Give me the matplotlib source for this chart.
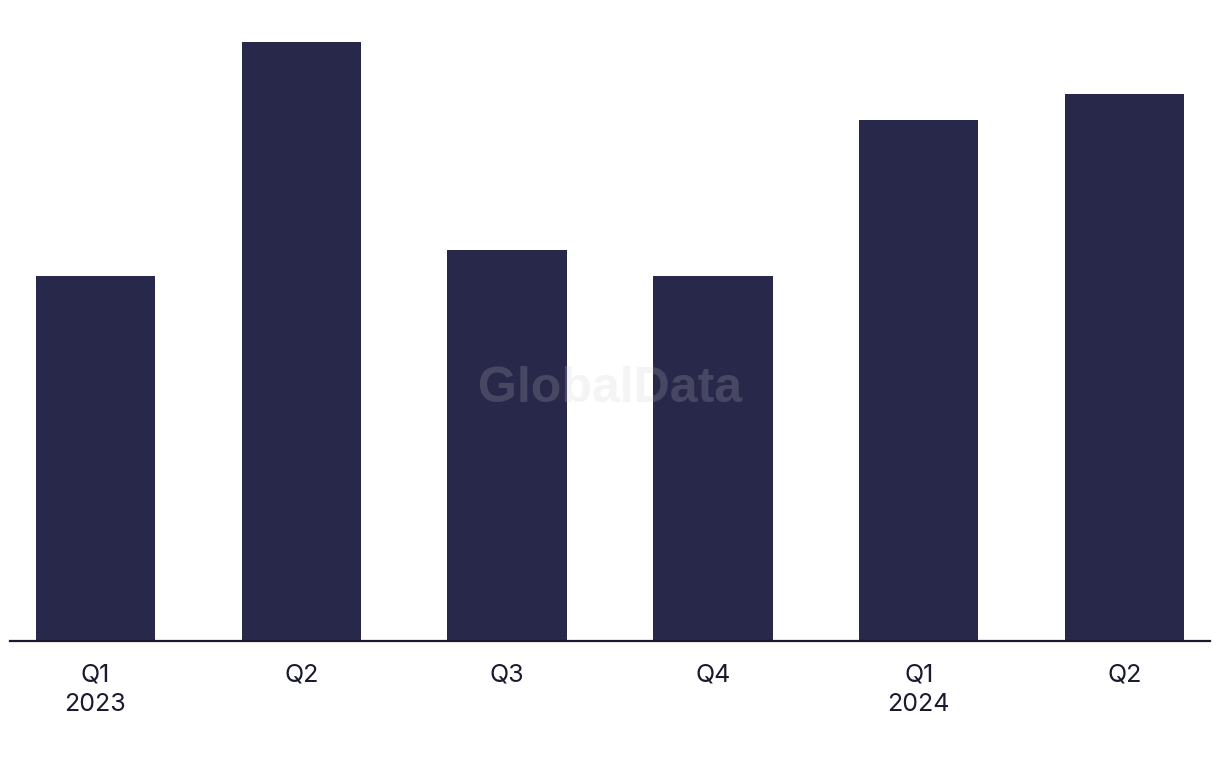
import matplotlib
matplotlib.use("Agg")
import matplotlib.pyplot as plt

categories = ["Q1\n2023", "Q2", "Q3", "Q4", "Q1\n2024", "Q2"]
values = [14, 23, 15, 14, 20, 21]

plt.rcParams['font.family'] = ['Inter', 'DejaVu Sans']

fig = plt.figure(figsize=(12.2, 7.68), dpi=100)
ax = fig.add_axes([10/1220, 1 - 641/768, 1200/1220, (641 - 16)/768])

x = range(len(values))
ax.bar(x, values, width=0.58, color="#28284a", zorder=2)
ax.set_xlim(-0.415, 5.415)
ax.set_ylim(0, 24)

for s in ["top", "right", "left"]:
    ax.spines[s].set_visible(False)
ax.spines["bottom"].set_color("#1a1a2e")
ax.spines["bottom"].set_linewidth(1.6)
ax.spines["bottom"].set_zorder(3)
ax.set_yticks([])
ax.set_xticks(list(x))
ax.set_xticklabels(categories, fontsize=18, color="#1a1a2e", linespacing=1.38)
ax.tick_params(axis="x", length=0, pad=16)

fig.text(610/1220, 1 - 389/768, "GlobalData", ha="center", va="center",
         fontsize=36, fontweight="bold", color="#c8c8d0", alpha=0.2, zorder=5,
         family=["Liberation Sans", "DejaVu Sans"])

fig.savefig("out.png", dpi=100)
